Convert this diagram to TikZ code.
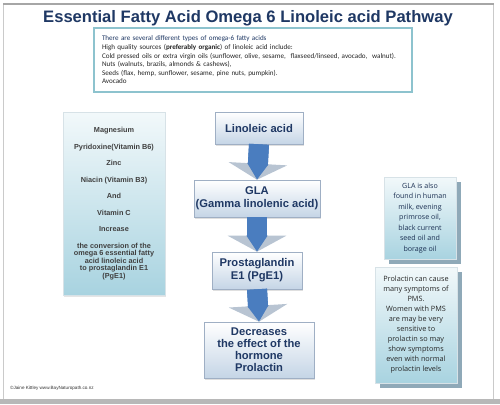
\documentclass[tikz,border=0pt]{standalone}
\usepackage{fontspec}
\setmainfont{Liberation Sans}
\newfontfamily\notefont{Carlito}
\newfontfamily\handfont{Open Sans}
\usetikzlibrary{arrows.meta, shadows}
\definecolor{titlenavy}{HTML}{1F3864}
\definecolor{tealline}{HTML}{8DC3CE}
\definecolor{paleblue}{HTML}{A8D3E0}
\definecolor{boxedge}{HTML}{9BB7C4}
\definecolor{shadowblue}{HTML}{8FA9B8}
\definecolor{flowbottom}{HTML}{C5D5E6}
\definecolor{flowedge}{HTML}{9FAFC4}
\definecolor{shaftblue}{HTML}{4A7DBF}
\definecolor{headgrey}{HTML}{B8C4D2}
\definecolor{framegrey}{HTML}{A6A6A6}

\begin{document}
\begin{tikzpicture}[x=1pt, y=-1pt,
  flowbox/.style={top color=white, bottom color=flowbottom, draw=flowedge, line width=0.6pt,
                  font=\fontsize{11.2}{13}\selectfont\bfseries, text=titlenavy, align=center,
                  inner sep=1pt, drop shadow={shadow xshift=1pt, shadow yshift=-1.5pt, opacity=.25}},
  sidebox/.style={top color=white!85!paleblue, bottom color=paleblue, draw=white!60!boxedge,
                  line width=0.5pt, align=center, inner sep=2pt},
  notebox/.style={sidebox,
                  drop shadow={shadow xshift=5pt, shadow yshift=-5pt, fill=shadowblue, opacity=1}},
  flowarrow/.style={line width=20pt, draw=shaftblue,
                    -{Triangle[length=16pt, width=58pt, fill=headgrey, color=headgrey]}},
  innertip/.style={line width=20pt, draw=shaftblue,
                   -{Triangle[length=16pt, width=20pt, fill=shaftblue, color=shaftblue]}}
]
\useasboundingbox (0,0) rectangle (500,404);

% Page frame
\fill[white] (0,0) rectangle (500,404);
\draw[framegrey!60, line width=0.8pt] (3.5,4) rectangle (493.5,399);
\draw[framegrey, line width=2pt] (3,4) -- (494,4);
\fill[framegrey!80] (0,399) rectangle (500,404);

% Title
\node[font=\fontsize{16.6}{18}\selectfont\bfseries, text=titlenavy, anchor=base]
  (title) at (248,23) {Essential Fatty Acid Omega 6 Linoleic acid Pathway};

% Sources box
\node[draw=tealline, line width=2.6pt, fill=white, text width=302pt, inner xsep=8pt,
      minimum height=64pt, align=left, font=\notefont\fontsize{7.1}{8.6}\selectfont,
      text=black!85] (sources) at (253,60)
  {\textcolor{titlenavy}{There are several different types of omega-6 fatty acids}\\
   High quality sources (\textbf{preferably organic}) of linoleic acid include:\\
   Cold pressed oils or extra virgin oils (sunflower, olive, sesame,\ \ flaxseed/linseed, avocado,\ \ walnut).\\
   Nuts (walnuts, brazils, almonds \& cashews),\\
   Seeds (flax, hemp, sunflower, sesame, pine nuts, pumpkin).\\
   Avocado};

% Cofactors box
\node[sidebox, drop shadow={shadow xshift=1pt, shadow yshift=-1.5pt, opacity=.2},
      minimum width=102pt, minimum height=183pt,
      font=\fontsize{7.3}{7.5}\selectfont\bfseries, text=black!75] (cofactors) at (114,203.5)
  {Magnesium\\[9pt]
   Pyridoxine(Vitamin B6)\\[9pt]
   Zinc\\[9pt]
   Niacin (Vitamin B3)\\[9pt]
   And\\[9pt]
   Vitamin C\\[9pt]
   Increase\\[9pt]
   the conversion of the\\
   omega 6 essential fatty\\
   acid linoleic acid\\
   to prostaglandin E1\\
   (PgE1)};

% Pathway
\node[flowbox, minimum width=88pt, minimum height=32pt] (linoleic) at (259,128) {Linoleic acid};
\node[flowbox, minimum width=126pt, minimum height=37pt] (gla) at (257,198.5)
  {GLA\\(Gamma linolenic acid)};
\node[flowbox, minimum width=90pt, minimum height=37pt] (pge) at (257,270.5)
  {Prostaglandin\\E1 (PgE1)};
\node[flowbox, minimum width=110pt, minimum height=56pt, font=\fontsize{11.2}{12}\selectfont\bfseries]
  (prolactin) at (259,350)
  {Decreases\\the effect of the\\hormone\\Prolactin};

\draw[flowarrow] (linoleic.south) -- (gla.north);
\draw[innertip] (linoleic.south) -- (gla.north);
\draw[flowarrow] (gla.south) -- (pge.north);
\draw[innertip] (gla.south) -- (pge.north);
\draw[flowarrow] (pge.south) -- (prolactin.north);
\draw[innertip] (pge.south) -- (prolactin.north);

% Side notes
\node[notebox, minimum width=72pt, minimum height=82pt,
      font=\handfont\fontsize{7.1}{10.5}\selectfont, text=titlenavy!80!black] (glanote) at (420,218)
  {GLA is also\\found in human\\milk, evening\\primrose oil,\\black current\\seed oil and\\borage oil};
\node[notebox, minimum width=82pt, minimum height=116pt,
      font=\handfont\fontsize{7.3}{10}\selectfont, text=black!85] (pmsnote) at (416,325)
  {Prolactin can cause\\many symptoms of\\PMS.\\Women with PMS\\are may be very\\sensitive to\\prolactin so may\\show symptoms\\even with normal\\prolactin levels};

% Footer
\node[font=\fontsize{4.6}{5}\selectfont, text=black!80, anchor=west, inner sep=0pt]
  (credit) at (10,388) {\textcopyright Jaine Kittley www.BayNaturopath.co.nz};

\end{tikzpicture}
\end{document}
